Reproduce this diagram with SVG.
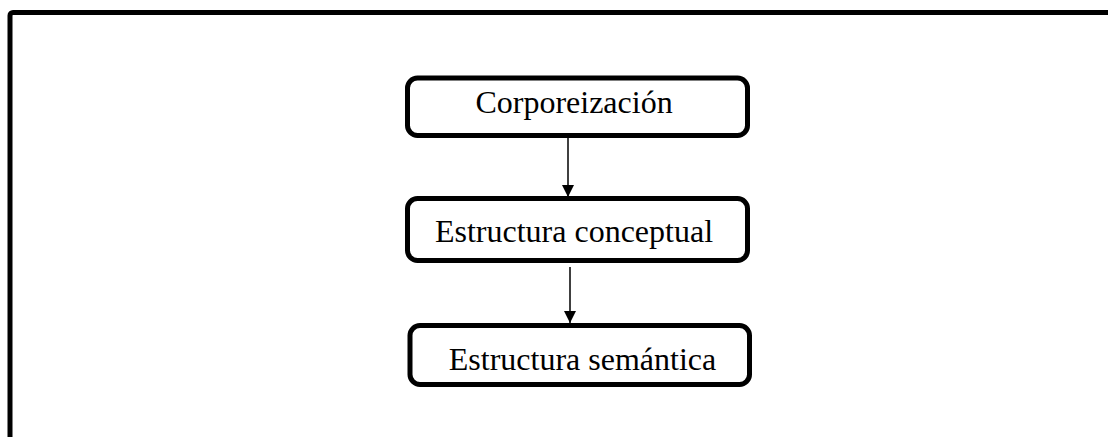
<svg xmlns="http://www.w3.org/2000/svg" width="1108" height="437" viewBox="0 0 1108 437">
<style>
.box{fill:#fff;stroke:#000;stroke-width:5}
.lbl{font-family:"Liberation Serif","Times New Roman",serif;font-size:32px;fill:#000;text-anchor:middle}
.con{stroke:#000;stroke-width:1.5;fill:none}
</style>
<defs>
<marker id="arr" markerWidth="12" markerHeight="12" viewBox="0 0 12 12" refX="12" refY="6" orient="auto" markerUnits="userSpaceOnUse">
<path d="M0,0 L12,6 L0,12 Z" fill="#000"/>
</marker>
</defs>
<rect width="1108" height="437" fill="#fff"/>
<rect id="frame" x="10" y="12.5" width="1200" height="500" rx="3" fill="none" stroke="#000" stroke-width="5"/>
<g id="connectors">
<line class="con" x1="568" y1="136" x2="568" y2="197" marker-end="url(#arr)"/>
<line class="con" x1="570" y1="267" x2="570" y2="323" marker-end="url(#arr)"/>
</g>
<g id="n1">
<rect class="box" x="407.5" y="78" width="340" height="57.5" rx="10"/>
<text class="lbl" x="574" y="113">Corporeización</text>
</g>
<g id="n2">
<rect class="box" x="407.5" y="198.5" width="340" height="62" rx="10"/>
<text class="lbl" x="574" y="242">Estructura conceptual</text>
</g>
<g id="n3">
<rect class="box" x="410" y="325.5" width="339.5" height="59" rx="10"/>
<text class="lbl" x="582.5" y="370">Estructura semántica</text>
</g>
</svg>
